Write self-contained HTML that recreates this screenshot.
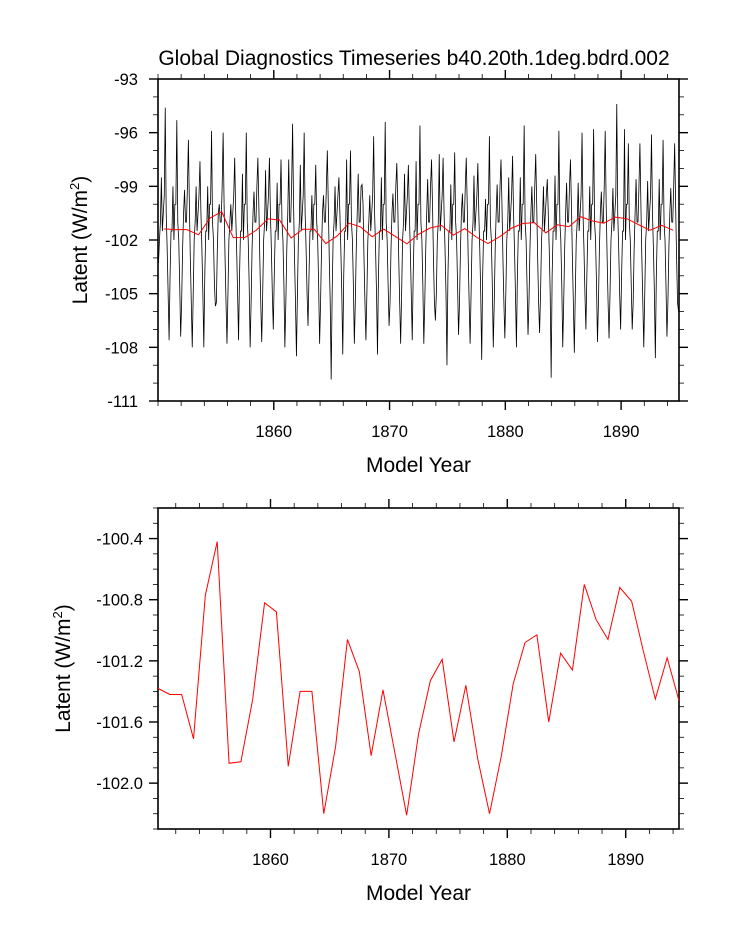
<!DOCTYPE html>
<html><head><meta charset="utf-8"><style>
html,body{margin:0;padding:0;background:#fff;}
svg{display:block;font-family:"Liberation Sans",Arial,sans-serif;}
</style></head><body>
<svg id="chart" width="733" height="945" viewBox="0 0 733 945" xmlns="http://www.w3.org/2000/svg">
<text x="414" y="65" font-size="21" text-anchor="middle">Global Diagnostics Timeseries b40.20th.1deg.bdrd.002</text>
<g id="top"></g>
<g id="bot"></g>
</svg>
<script>
// ---- data ----
const monthlyLatent = [
-103.3,-102,-101,-98.5,-101.5,-100.5,-99.5,-94.6,-100.5,-102.5,-105,-107.6,
-104,-101.5,-101.5,-99,-102,-100,-100,-95.3,-101,-102,-104.5,-107.4,
-105.5,-102.5,-100.5,-99.2,-101,-101,-99,-96.4,-100,-103,-105.5,-108,
-105,-102,-101,-99,-101.5,-100.5,-99.5,-97.6,-100.5,-102.5,-105,-108,
-104,-101.5,-101.5,-99,-102,-100,-100,-95.9,-101,-102,-104.5,-105.7,
-105.5,-102.5,-100.5,-100,-101,-101,-99,-96,-100,-103,-105.5,-107.8,
-105,-102,-101,-100,-101.5,-100.5,-99.5,-97.4,-100.5,-102.5,-105,-107.6,
-104,-101.5,-101.5,-98.3,-102,-100,-100,-96,-101,-102,-104.5,-108,
-105.5,-102.5,-100.5,-99.3,-101,-101,-99,-97.4,-100,-103,-105.5,-107.7,
-105,-102,-101,-98.1,-101.5,-100.5,-99.5,-97.4,-100.5,-102.5,-105,-107,
-104,-101.5,-101.5,-98.8,-102,-100,-100,-97.5,-101,-102,-104.5,-108,
-105.5,-102.5,-100.5,-97.5,-101,-101,-99,-95.5,-100,-103,-105.5,-108.5,
-105,-102,-101,-97.8,-101.5,-100.5,-99.5,-96,-100.5,-102.5,-105,-106.8,
-104,-101.5,-101.5,-99.5,-102,-100,-100,-97.8,-101,-102,-104.5,-107.8,
-105.5,-102.5,-100.5,-99.5,-101,-101,-99,-97,-100,-103,-105.5,-109.8,
-105,-102,-101,-99,-101.5,-100.5,-99.5,-98.5,-100.5,-102.5,-105,-108.4,
-104,-101.5,-101.5,-97.5,-102,-100,-100,-97,-101,-102,-104.5,-107.8,
-105.5,-102.5,-100.5,-98.3,-101,-101,-99,-98.9,-100,-103,-105.5,-107.6,
-105,-102,-101,-99.5,-101.5,-100.5,-99.5,-96.2,-100.5,-102.5,-105,-108.4,
-104,-101.5,-101.5,-98.5,-102,-100,-100,-95.4,-101,-102,-104.5,-106.8,
-105.5,-102.5,-100.5,-99.4,-101,-101,-99,-97.7,-100,-103,-105.5,-107.8,
-105,-102,-101,-98.3,-101.5,-100.5,-99.5,-97.8,-100.5,-102.5,-105,-107.6,
-104,-101.5,-101.5,-97.6,-102,-100,-100,-95.6,-101,-102,-104.5,-107.8,
-105.5,-102.5,-100.5,-98.6,-101,-101,-99,-97.5,-100,-103,-105.5,-106.5,
-105,-102,-101,-97.2,-101.5,-100.5,-99.5,-97.4,-100.5,-102.5,-105,-109,
-104,-101.5,-101.5,-98.9,-102,-100,-100,-97.1,-101,-102,-104.5,-107.3,
-105.5,-102.5,-100.5,-99.4,-101,-101,-99,-97.4,-100,-103,-105.5,-107.8,
-105,-102,-101,-98.4,-101.5,-100.5,-99.5,-97.7,-100.5,-102.5,-105,-108.7,
-104,-101.5,-101.5,-99.7,-102,-100,-100,-96.2,-101,-102,-104.5,-108,
-105.5,-102.5,-100.5,-98.9,-101,-101,-99,-97.5,-100,-103,-105.5,-107.5,
-105,-102,-101,-98.5,-101.5,-100.5,-99.5,-97.3,-100.5,-102.5,-105,-108,
-104,-101.5,-101.5,-98.5,-102,-100,-100,-95.6,-101,-102,-104.5,-107.3,
-105.5,-102.5,-100.5,-99,-101,-101,-99,-97.2,-100,-103,-105.5,-107.2,
-105,-102,-101,-99,-101.5,-100.5,-99.5,-98.6,-100.5,-102.5,-105,-109.7,
-104,-101.5,-101.5,-98.4,-102,-100,-100,-95.9,-101,-102,-104.5,-108,
-105.5,-102.5,-100.5,-98.8,-101,-101,-99,-97.5,-100,-103,-105.5,-108.3,
-105,-102,-101,-98.8,-101.5,-100.5,-99.5,-96,-100.5,-102.5,-105,-107,
-104,-101.5,-101.5,-99,-102,-100,-100,-95.8,-101,-102,-104.5,-107.7,
-105.5,-102.5,-100.5,-99.3,-101,-101,-99,-95.9,-100,-103,-105.5,-107.5,
-105,-102,-101,-99.1,-101.5,-100.5,-99.5,-94.4,-100.5,-102.5,-105,-107,
-104,-101.5,-101.5,-95.8,-102,-100,-100,-96.6,-101,-102,-104.5,-107,
-105.5,-102.5,-100.5,-98.6,-101,-101,-99,-96.6,-100,-103,-105.5,-108,
-105,-102,-101,-98.7,-101.5,-100.5,-99.5,-96.1,-100.5,-102.5,-105,-108.6,
-104,-101.5,-101.5,-98.6,-102,-100,-100,-96.4,-101,-102,-104.5,-107.4,
-105.5,-102.5,-100.5,-99.1,-101,-101,-99,-96.6,-100,-103,-105.5,-106
];
const annualLatent = [-101.38,-101.42,-101.42,-101.71,-100.77,-100.42,-101.87,-101.86,-101.45,-100.82,-100.88,-101.89,-101.40,-101.40,-102.20,-101.76,-101.06,-101.27,-101.82,-101.39,-101.80,-102.21,-101.68,-101.33,-101.19,-101.73,-101.36,-101.84,-102.20,-101.82,-101.35,-101.08,-101.03,-101.60,-101.15,-101.26,-100.70,-100.93,-101.06,-100.72,-100.81,-101.14,-101.45,-101.18,-101.46];
const firstYear = 1850;
const xTickYears = [1860, 1870, 1880, 1890];
const topYTicks = [-93, -96, -99, -102, -105, -108, -111];
const botYTicks = [-100.4, -100.8, -101.2, -101.6, -102.0];
const botYLabels = ["-100.4", "-100.8", "-101.2", "-101.6", "-102.0"];

const NS = "http://www.w3.org/2000/svg";
function mk(parent, tag, attrs) {
  const e = document.createElementNS(NS, tag);
  for (const k in attrs) e.setAttribute(k, attrs[k]);
  parent.appendChild(e);
  return e;
}
const L = 158, R = 679;

function drawPanel(g, top, bot, x0, x1, y0, y1, yTicks, yLabels, yMinorStep, yLabelX, ylabX) {
  const xs = v => L + (v - x0) / (x1 - x0) * (R - L);
  const ys = v => top + (y1 - v) / (y1 - y0) * (bot - top);
  const ax = mk(g, "g", {stroke: "#000", "stroke-width": 1});
  
  
  for (let yr = 1850; yr <= 1895; yr += 2) {
    const x = xs(yr); if (x < L - 0.5 || x > R + 0.5) continue;
    const major = xTickYears.includes(yr);
    const len = major ? 9 : 5;
    mk(ax, "line", {x1: x, x2: x, y1: bot, y2: bot + len, "stroke-width": major ? 1.4 : 0.8});
    mk(ax, "line", {x1: x, x2: x, y1: top, y2: top - len, "stroke-width": major ? 1.4 : 0.8});
  }
  for (let v = Math.ceil(y0 / yMinorStep - 1e-6) * yMinorStep; v <= y1 + 1e-9; v += yMinorStep) {
    const y = ys(v);
    const major = yTicks.some(t => Math.abs(t - v) < 1e-6);
    const len = major ? 9 : 5;
    mk(ax, "line", {x1: L, x2: L - len, y1: y, y2: y, "stroke-width": major ? 1.4 : 0.8});
    mk(ax, "line", {x1: R, x2: R + len, y1: y, y2: y, "stroke-width": major ? 1.4 : 0.8});
  }
  const fr = mk(g, "rect", {x: L, y: top, width: R - L, height: bot - top, fill: "none", stroke: "#000", "stroke-width": 1.6});
  
  
  yTicks.forEach((t, i) => {
    const tx = mk(g, "text", {x: yLabelX, y: ys(t) + 6, "font-size": 16.5, "text-anchor": "end"});
    
    
    tx.textContent = yLabels[i];
  });
  xTickYears.forEach(yr => {
    const tx = mk(g, "text", {x: xs(yr), y: bot + 36, "font-size": 16.5, "text-anchor": "middle"});
    
    
    tx.textContent = yr;
  });
  const xt = mk(g, "text", {x: (L + R) / 2, y: bot + 71, "font-size": 21, "text-anchor": "middle"});
  
  
  xt.textContent = "Model Year";
  const cy = (top + bot) / 2;
  const yt = mk(g, "text", {x: ylabX, y: cy, "font-size": 21, "text-anchor": "middle", transform: `rotate(-90 ${ylabX} ${cy})`});
  
  
  yt.innerHTML = 'Latent (W/m<tspan dy="-8" font-size="13">2</tspan><tspan dy="8">)</tspan>';
  return {xs, ys};
}

const gT = document.getElementById("top");
const T = drawPanel(gT, 79, 401, 1850, 1895, -111, -93, topYTicks, topYTicks.map(String), 1, 138, 87);
let d = monthlyLatent.map((v, i) => (i ? "L" : "M") + T.xs(firstYear + (i + 0.5) / 12).toFixed(2) + "," + T.ys(v).toFixed(2)).join("");
const mline = mk(gT, "path", {d, fill: "none", stroke: "#000", "stroke-width": 0.8});


d = annualLatent.map((v, i) => (i ? "L" : "M") + T.xs(firstYear + i + 0.5).toFixed(2) + "," + T.ys(v).toFixed(2)).join("");
const aline = mk(gT, "path", {d, fill: "none", stroke: "#ff0000", "stroke-width": 1});



const gB = document.getElementById("bot");
const B = drawPanel(gB, 508, 829, 1850.5, 1894.5, -102.3, -100.2, botYTicks, botYLabels, 0.1, 143, 70);
d = annualLatent.map((v, i) => (i ? "L" : "M") + B.xs(firstYear + i + 0.5).toFixed(2) + "," + B.ys(v).toFixed(2)).join("");
const bline = mk(gB, "path", {d, fill: "none", stroke: "#ff0000", "stroke-width": 1});


</script>
</body></html>
